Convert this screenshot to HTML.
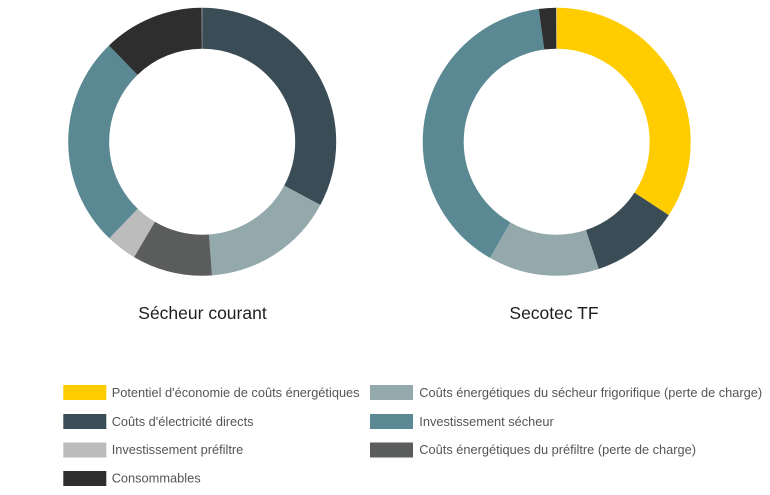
<!DOCTYPE html>
<html>
<head>
<meta charset="utf-8">
<style>
  html, body { margin: 0; padding: 0; background: #ffffff; }
  body { width: 770px; height: 495px; overflow: hidden; }
  svg { display: block; }
  .title { font-family: "Liberation Sans", Arial, sans-serif; font-size: 17.5px; fill: #1e1e1e; }
  .leg { font-family: "Liberation Sans", Arial, sans-serif; font-size: 12.8px; fill: #555555; }
</style>
</head>
<body>
<svg width="770" height="495" viewBox="0 0 770 495" xmlns="http://www.w3.org/2000/svg">
  <!-- Left donut: Sécheur courant -->
  <g transform="rotate(-90 202.2 141.7)" fill="none" stroke-width="41">
    <circle cx="202.2" cy="141.7" r="113.5" pathLength="360" stroke="#3a4d57" stroke-dasharray="118.25 360" stroke-dashoffset="0"/>
    <circle cx="202.2" cy="141.7" r="113.5" pathLength="360" stroke="#93a9ac" stroke-dasharray="57.65 360" stroke-dashoffset="-118.25"/>
    <circle cx="202.2" cy="141.7" r="113.5" pathLength="360" stroke="#5b5d5c" stroke-dasharray="34.8 360" stroke-dashoffset="-175.9"/>
    <circle cx="202.2" cy="141.7" r="113.5" pathLength="360" stroke="#bcbcbc" stroke-dasharray="13.3 360" stroke-dashoffset="-210.7"/>
    <circle cx="202.2" cy="141.7" r="113.5" pathLength="360" stroke="#5a8993" stroke-dasharray="92.1 360" stroke-dashoffset="-224"/>
    <circle cx="202.2" cy="141.7" r="113.5" pathLength="360" stroke="#2e2e2e" stroke-dasharray="43.9 360" stroke-dashoffset="-316.1"/>
  </g>

  <!-- Right donut: Secotec TF -->
  <g transform="rotate(-90 556.7 141.7)" fill="none" stroke-width="41">
    <circle cx="556.7" cy="141.7" r="113.5" pathLength="360" stroke="#ffcc00" stroke-dasharray="123.3 360" stroke-dashoffset="0"/>
    <circle cx="556.7" cy="141.7" r="113.5" pathLength="360" stroke="#3a4d57" stroke-dasharray="38.5 360" stroke-dashoffset="-123.3"/>
    <circle cx="556.7" cy="141.7" r="113.5" pathLength="360" stroke="#93a9ac" stroke-dasharray="48.2 360" stroke-dashoffset="-161.8"/>
    <circle cx="556.7" cy="141.7" r="113.5" pathLength="360" stroke="#5a8993" stroke-dasharray="142.5 360" stroke-dashoffset="-210"/>
    <circle cx="556.7" cy="141.7" r="113.5" pathLength="360" stroke="#2e2e2e" stroke-dasharray="7.5 360" stroke-dashoffset="-352.5"/>
  </g>

  <!-- Titles -->
  <text class="title" x="202.5" y="319" text-anchor="middle">Sécheur courant</text>
  <text class="title" x="554" y="319" text-anchor="middle">Secotec TF</text>

  <!-- Legend column 1 -->
  <rect x="63.3" y="385" width="43" height="15" fill="#ffcc00"/>
  <text class="leg" x="111.7" y="397">Potentiel d'économie de coûts énergétiques</text>

  <rect x="63.3" y="414" width="43" height="15" fill="#3a4d57"/>
  <text class="leg" x="111.7" y="425.8">Coûts d'électricité directs</text>

  <rect x="63.3" y="442.5" width="43" height="15" fill="#bcbcbc"/>
  <text class="leg" x="111.7" y="454.2">Investissement préfiltre</text>

  <rect x="63.3" y="471" width="43" height="15" fill="#2e2e2e"/>
  <text class="leg" x="111.7" y="482.7">Consommables</text>

  <!-- Legend column 2 -->
  <rect x="370" y="385" width="43" height="15" fill="#93a9ac"/>
  <text class="leg" x="419.3" y="397">Coûts énergétiques du sécheur frigorifique (perte de charge)</text>

  <rect x="370" y="414" width="43" height="15" fill="#5a8993"/>
  <text class="leg" x="419.3" y="425.8">Investissement sécheur</text>

  <rect x="370" y="442.5" width="43" height="15" fill="#5b5d5c"/>
  <text class="leg" x="419.3" y="454.2">Coûts énergétiques du préfiltre (perte de charge)</text>
</svg>
</body>
</html>
